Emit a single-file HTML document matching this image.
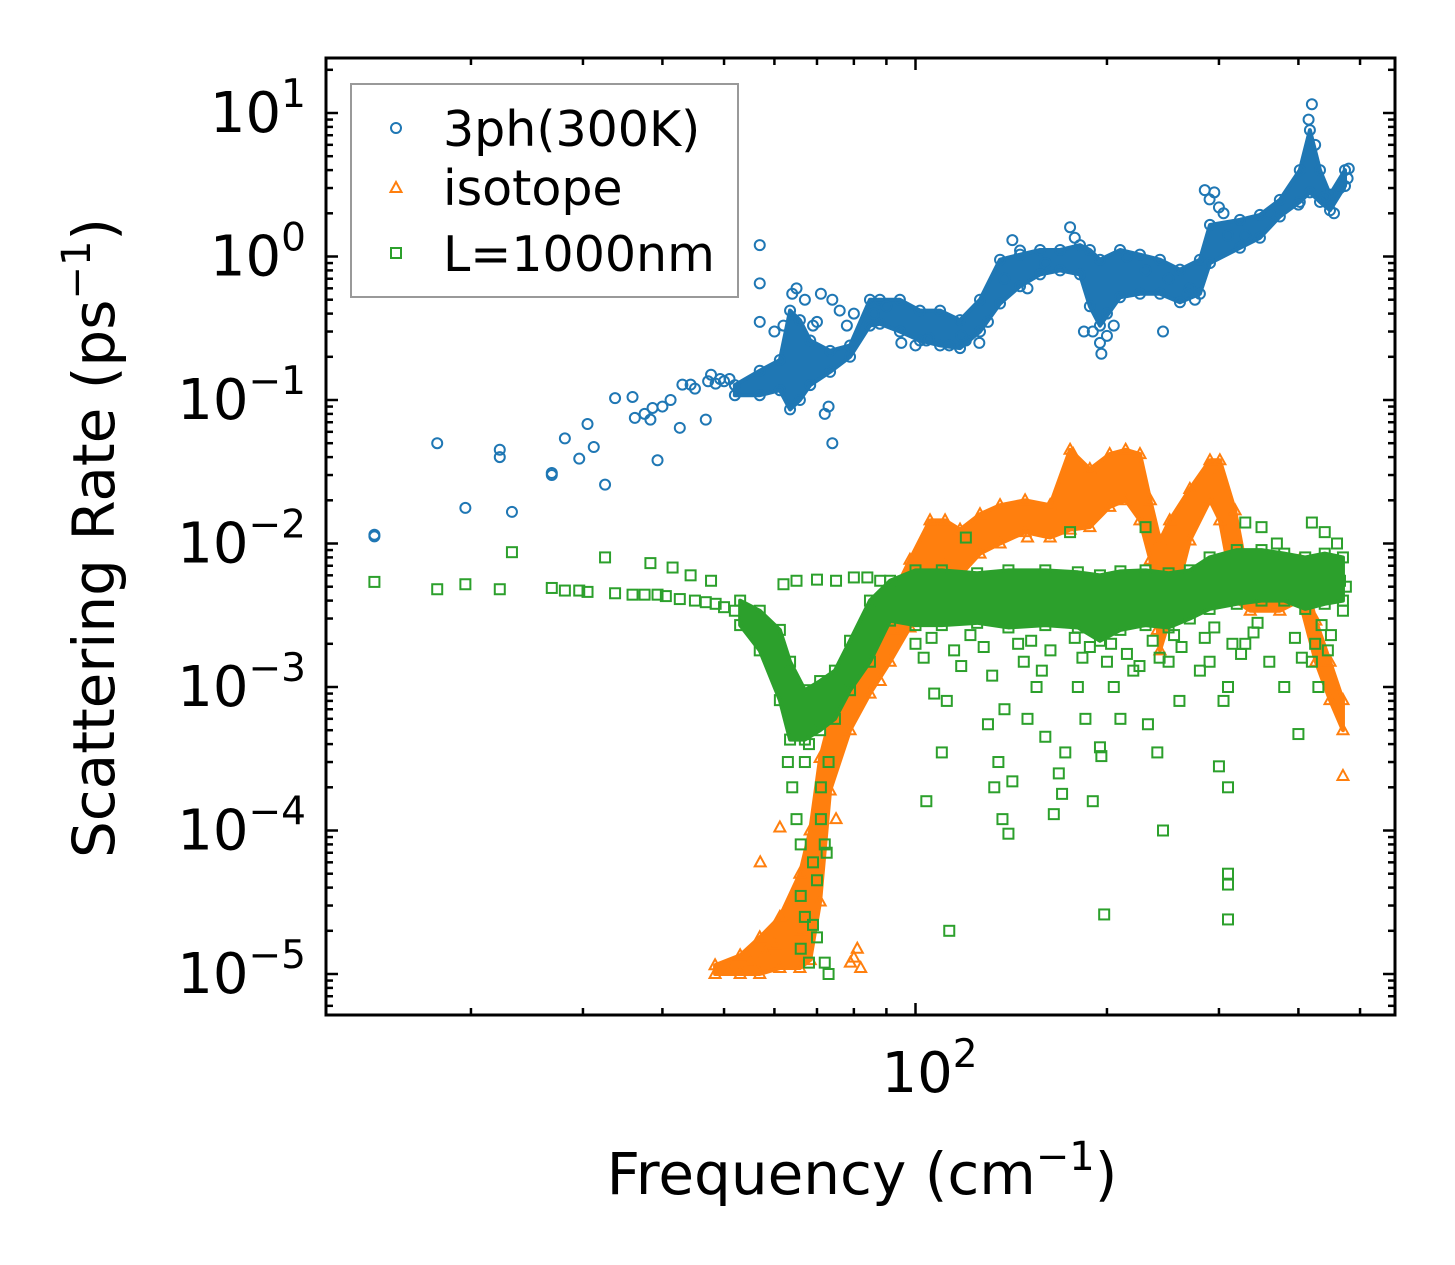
<!DOCTYPE html>
<html><head><meta charset="utf-8"><title>Scattering Rate vs Frequency</title>
<style>
html,body{margin:0;padding:0;background:#fff;}
svg{display:block;font-family:"DejaVu Sans","Liberation Sans",sans-serif;}
</style></head>
<body>
<svg id="chart" width="1455" height="1265" viewBox="0 0 1455 1265" xmlns="http://www.w3.org/2000/svg">
  <rect x="0" y="0" width="1455" height="1265" fill="#fff"/>
  <g id="marks"></g>
  <g id="axes"></g>
  <text x="862" y="1194" font-size="58" text-anchor="middle">Frequency (cm<tspan font-size="40" dy="-24">−1</tspan><tspan dy="24">)</tspan></text>
  <text transform="translate(114,538) rotate(-90)" font-size="58" text-anchor="middle">Scattering Rate (ps<tspan font-size="40" dy="-24">−1</tspan><tspan dy="24">)</tspan></text>
  <g>
    <rect x="351" y="84" width="387" height="213" fill="#fff" stroke="#999" stroke-width="2"/>
    <circle cx="396" cy="128" r="5" fill="none" stroke="#1f77b4" stroke-width="2"/>
    <text x="443" y="146" font-size="49">3ph(300K)</text>
    <polygon points="396,182 401.5,192 390.5,192" fill="none" stroke="#ff7f0e" stroke-width="2"/>
    <text x="443" y="205" font-size="49">isotope</text>
    <rect x="391" y="248" width="10" height="10" fill="none" stroke="#2ca02c" stroke-width="2"/>
    <text x="443" y="271" font-size="49">L=1000nm</text>
  </g>
</svg>
<script>
// ---- axis data ----
const yTickExps = [1, 0, -1, -2, -3, -4, -5];
const xTickExps = [2];
// ---- blue: 3ph(300K) dense band (freq cm^-1, low, high rate ps^-1) ----
const blueBandF  = [52.0,56.9,61.2,63.5,65.8,68.3,73.4,78.9,84.8,87.9,94.5,101.6,109.3,117.5,126.3,135.8,146,157,168.8,181.4,188,195,209.7,225.4,242.3,260.5,280,290.4,323.7,348,374,402,417,432.5,448.5,473.5];
const blueBandLo = [0.108,0.108,0.117,0.086,0.10,0.127,0.157,0.20,0.33,0.34,0.30,0.26,0.24,0.23,0.30,0.47,0.62,0.75,0.80,0.75,0.45,0.33,0.52,0.55,0.55,0.48,0.55,0.90,1.15,1.35,1.9,2.4,2.8,2.4,2.1,3.1];
const blueBandHi = [0.127,0.16,0.19,0.42,0.36,0.26,0.22,0.24,0.50,0.50,0.50,0.42,0.42,0.36,0.50,0.95,1.03,1.11,1.11,1.2,1.11,0.95,1.11,1.03,0.95,0.81,0.95,1.66,1.8,1.95,2.48,4.0,7.6,4.0,2.7,4.0];
const blueF = [14.1,14.1,17.7,19.6,22.2,22.2,23.2,26.8,26.8,28.1,29.6,30.5,31.2,32.5,33.7,35.9,36.2,37.5,38.3,38.6,39.3,40,41.2,42.6,43,44.3,45,46.8,47.2,47.7,48.5,49.3,50,51,56.9,56.9,56.9,60,62,64,65,67,69,70,71,74,76,78,80,74,72,73,86,90,95,105,113,120,130,138,142,146,150,160,175,178,190,195,196,200,215,230,245,250,270,285,290,295,300,305,310,330,360,400,415,420,425,440,455,465,480,478,100,104,118,126,184,200,205,268,275];
const blueV = [0.0115,0.0112,0.05,0.0177,0.045,0.04,0.0166,0.031,0.03,0.054,0.039,0.068,0.047,0.0257,0.103,0.105,0.075,0.08,0.073,0.088,0.038,0.09,0.1,0.064,0.128,0.128,0.12,0.073,0.135,0.15,0.13,0.14,0.135,0.14,1.2,0.65,0.35,0.3,0.33,0.55,0.6,0.5,0.33,0.35,0.55,0.5,0.42,0.33,0.4,0.05,0.08,0.09,0.4,0.45,0.25,0.27,0.24,0.26,0.35,0.7,1.3,1.1,0.6,0.9,1.6,1.35,0.3,0.25,0.21,0.4,1.0,0.8,0.3,0.7,0.6,2.9,2.5,2.8,2.2,2.0,1.4,1.4,2.0,2.3,9,11.5,6,2.6,2.0,3,4.1,3.5,0.24,0.26,0.28,0.25,0.3,0.28,0.33,0.55,0.5];
// ---- orange: isotope ----
const orgBandF  = [48.4,53.0,56.9,61.2,65.8,68.3,70.8,73.4,78.9,84.8,91.2,98,105.4,111.3,117.5,126.3,135.8,148.7,162.8,175,188,202,214,225.4,234,242.3,251,270,290.4,301,318,336,374,402,426,448.5,470];
const orgBandLo = [1.0e-5,1.0e-5,1.0e-5,1.1e-5,1.1e-5,1.25e-5,3.2e-5,1.9e-4,5e-4,9e-4,1.5e-3,2.6e-3,5.5e-3,7e-3,6e-3,8.5e-3,1.0e-2,1.2e-2,1.1e-2,1.25e-2,1.3e-2,1.8e-2,2e-2,1.45e-2,7.7e-3,1.8e-3,3e-3,1.05e-2,2e-2,1.45e-2,4e-3,3.4e-3,3.4e-3,4e-3,1.5e-3,8.1e-4,5e-4];
const orgBandHi = [1.15e-5,1.35e-5,1.8e-5,2.5e-5,5e-5,1.0e-4,3.2e-4,6e-4,1.1e-3,2.1e-3,4e-3,7.7e-3,1.45e-2,1.45e-2,1.25e-2,1.6e-2,1.85e-2,2.0e-2,1.85e-2,4.5e-2,3.3e-2,4.2e-2,4.5e-2,4.2e-2,2.0e-2,1.05e-2,1.45e-2,2.4e-2,3.8e-2,3.8e-2,1.7e-2,4.7e-3,4.7e-3,7.7e-3,2.9e-3,1.5e-3,8.1e-4];
const orgF = [57,61.2,470,177,63,81,79,82,80,66,60,58,55,51,75,86,88,92,150,240,245,300,330,350,420];
const orgV = [6e-5,1.05e-4,2.4e-4,4.2e-2,3e-5,1.5e-5,1.2e-5,1.1e-5,1.3e-5,2e-5,1.6e-5,1.4e-5,1.2e-5,1.05e-5,1.2e-4,1.4e-3,1.1e-3,2.5e-3,1.1e-2,2.5e-3,3.5e-3,3.2e-2,5e-3,4e-3,3e-3];
// ---- green: boundary L=1000nm ----
const grnBandF  = [53,56.9,61.2,63.5,67,70.8,74.7,78.9,84.8,91.2,100,110,125,140,160,180,195,210,230,250,270,290,320,350,380,410,440,470];
const grnBandLo = [2.7e-3,1.8e-3,8.1e-4,4.3e-4,4.3e-4,5e-4,6e-4,9.5e-4,1.5e-3,2.9e-3,2.7e-3,2.7e-3,2.8e-3,2.6e-3,2.7e-3,2.6e-3,2.1e-3,2.5e-3,2.7e-3,2.6e-3,3e-3,3.5e-3,3.8e-3,4e-3,4e-3,3.5e-3,3.8e-3,4e-3];
const grnBandHi = [4.0e-3,3.4e-3,2.5e-3,1.5e-3,9.5e-4,1.1e-3,1.3e-3,2.1e-3,4e-3,5.5e-3,6.5e-3,6.5e-3,6.2e-3,6.5e-3,6.5e-3,6.3e-3,6e-3,6.4e-3,6.5e-3,6.2e-3,6.5e-3,8e-3,9e-3,9e-3,8.5e-3,8e-3,8.5e-3,8e-3];
const grnF = [14.1,17.7,19.6,22.2,23.2,26.8,28.1,29.6,30.5,32.5,33.7,35.9,37.5,38.3,39.3,40.5,41.5,42.6,44.3,45,46.8,47.7,48.5,50,52,63,64,65,66,66,67,66,68,69,70,70,71,71,72,72,72.5,69,67,68,73,73,104,110,113,107,112,130,135,133,137,140,142,138,150,155,160,165,168,170,172,180,185,190,195,196,198,205,210,225,232,240,245,250,260,280,290,300,310,310,310,310,305,310,330,360,380,400,420,430,470,465,440,420,330,350,370,75,70,65,62,80,84,88,95,120,175,230,460,475,
  100,103,106,115,118,122,128,132,145,148,152,158,163,178,183,188,200,203,215,220,236,242,255,262,285,295,315,325,340,345,395,405,425,435,445,450];
const grnV = [5.4e-3,4.8e-3,5.2e-3,4.8e-3,8.7e-3,4.9e-3,4.7e-3,4.7e-3,4.6e-3,8e-3,4.5e-3,4.4e-3,4.4e-3,7.3e-3,4.4e-3,4.3e-3,6.8e-3,4.1e-3,6.0e-3,4.0e-3,3.9e-3,5.5e-3,3.8e-3,3.6e-3,3.4e-3,3e-4,2e-4,1.2e-4,8e-5,3.5e-5,2.5e-5,1.5e-5,1.2e-5,2.2e-5,1.8e-5,4.5e-5,2e-4,1.2e-4,8e-5,1.2e-5,7e-5,6e-5,3e-4,4e-4,3e-4,1e-5,1.6e-4,3.5e-4,2e-5,9e-4,8e-4,5.5e-4,3e-4,2e-4,1.2e-4,9.5e-5,2.2e-4,7e-4,6e-4,1e-3,4.5e-4,1.3e-4,2.5e-4,1.8e-4,3.5e-4,1e-3,6e-4,1.6e-4,3.8e-4,3.3e-4,2.6e-5,1e-3,6e-4,1.4e-3,5.5e-4,3.5e-4,1e-4,1.5e-3,8e-4,1.3e-3,1.5e-3,2.8e-4,2e-4,5e-5,4.2e-5,2.4e-5,8e-4,1e-3,2e-3,1.5e-3,1e-3,4.7e-4,1.5e-3,1e-3,3.4e-3,5.5e-3,1.2e-2,1.4e-2,1.4e-2,1.3e-2,1.0e-2,5.5e-3,5.6e-3,5.5e-3,5.2e-3,5.8e-3,5.8e-3,5.5e-3,5.2e-3,1.1e-2,1.2e-2,1.3e-2,1.0e-2,5e-3,
  2.0e-3,1.6e-3,2.2e-3,1.8e-3,1.4e-3,2.3e-3,1.9e-3,1.2e-3,2.0e-3,1.5e-3,2.1e-3,1.3e-3,1.8e-3,2.2e-3,1.6e-3,1.9e-3,1.5e-3,2.0e-3,1.7e-3,1.3e-3,2.1e-3,1.6e-3,2.3e-3,1.9e-3,2.2e-3,2.6e-3,2.0e-3,1.7e-3,2.4e-3,2.8e-3,2.2e-3,1.6e-3,2.0e-3,2.7e-3,1.8e-3,2.3e-3];

// ---- scales ----
const NS = 'http://www.w3.org/2000/svg';
const X0 = 326, X1 = 1395, Y0 = 58, Y1 = 1015;
function sx(f){ return 915.5 + 636*Math.log10(f/100); }
function sy(v){ return 113 + 143.5*(1 - Math.log10(v)); }
const marks = document.getElementById('marks');
const axes = document.getElementById('axes');

function el(tag, attrs, parent){
  const e = document.createElementNS(NS, tag);
  for (const k in attrs) e.setAttribute(k, attrs[k]);
  parent.appendChild(e);
  return e;
}
const defs = el('defs', {}, marks);
const cp = el('clipPath', {id:'clip'}, defs);
el('rect', {x:X0, y:Y0, width:X1-X0, height:Y1-Y0}, cp);

function marker(kind, color, x, y, g){
  let m;
  if (kind === 'circle') m = el('circle', {cx:x, cy:y, r:5, fill:'none', stroke:color, 'stroke-width':2}, g);
  else if (kind === 'tri') m = el('polygon', {points:`${x},${y-6} ${x+5.5},${y+4} ${x-5.5},${y+4}`, fill:'none', stroke:color, 'stroke-width':2}, g);
  else m = el('rect', {x:x-5, y:y-5, width:10, height:10, fill:'none', stroke:color, 'stroke-width':2}, g);
  return m;
}
function drawSeries(name, kind, color, bF, bLo, bHi, pF, pV){
  const g = el('g', {'clip-path':'url(#clip)'}, marks);
  
  
  let pts = [];
  for (let i=0;i<bF.length;i++) pts.push(sx(bF[i]) + ',' + sy(bHi[i]));
  for (let i=bF.length-1;i>=0;i--) pts.push(sx(bF[i]) + ',' + sy(bLo[i]));
  const band = el('polygon', {points:pts.join(' '), fill:color, stroke:color, 'stroke-width':4, 'stroke-linejoin':'round'}, g);
  
  
  for (let i=0;i<bF.length;i++){
    const a = marker(kind, color, sx(bF[i]), sy(bHi[i]), g);
    
    
    const b = marker(kind, color, sx(bF[i]), sy(bLo[i]), g);
    
    
  }
  for (let i=0;i<pF.length;i++){
    const m = marker(kind, color, sx(pF[i]), sy(pV[i]), g);
    
    
  }
}
drawSeries('3ph', 'circle', '#1f77b4', blueBandF, blueBandLo, blueBandHi, blueF, blueV);
drawSeries('isotope', 'tri', '#ff7f0e', orgBandF, orgBandLo, orgBandHi, orgF, orgV);
drawSeries('boundary', 'square', '#2ca02c', grnBandF, grnBandLo, grnBandHi, grnF, grnV);

// ---- axes ----
const frame = el('rect', {x:X0, y:Y0, width:X1-X0, height:Y1-Y0, fill:'none', stroke:'#000', 'stroke-width':3}, axes);


function tick(x1,y1,x2,y2,nm){
  const t = el('line', {x1:x1,y1:y1,x2:x2,y2:y2,stroke:'#000','stroke-width':2.5}, axes);
  
  
}
for (let e=-6; e<=1; e++){
  for (let m=1; m<=9; m++){
    const y = sy(m*Math.pow(10,e));
    if (y < Y0+1 || y > Y1-1) continue;
    const L = m===1 ? 12 : 7;
    tick(X0, y, X0+L, y, 'y-tick');
    tick(X1, y, X1-L, y, 'y-tick-right');
  }
}
yTickExps.forEach(e => {
  const y = sy(Math.pow(10,e));
  const t = el('text', {x:306, y:y+19, 'font-size':56, 'text-anchor':'end'}, axes);
  
  
  const s = (e<0 ? '−' : '') + Math.abs(e);
  t.innerHTML = '10<tspan font-size="39" dy="-25">' + s + '</tspan>';
});
for (let e=1; e<=2; e++){
  for (let m=1; m<=9; m++){
    const x = sx(m*Math.pow(10,e));
    if (x < X0+1 || x > X1-1) continue;
    const L = m===1 ? 12 : 7;
    tick(x, Y1, x, Y1-L, 'x-tick');
    tick(x, Y0, x, Y0+L, 'x-tick-top');
  }
}
xTickExps.forEach(e => {
  const x = sx(Math.pow(10,e));
  const t = el('text', {x:x+14, y:1092, 'font-size':56, 'text-anchor':'middle'}, axes);
  
  
  t.innerHTML = '10<tspan font-size="39" dy="-25">' + e + '</tspan>';
});
</script>
</body></html>
